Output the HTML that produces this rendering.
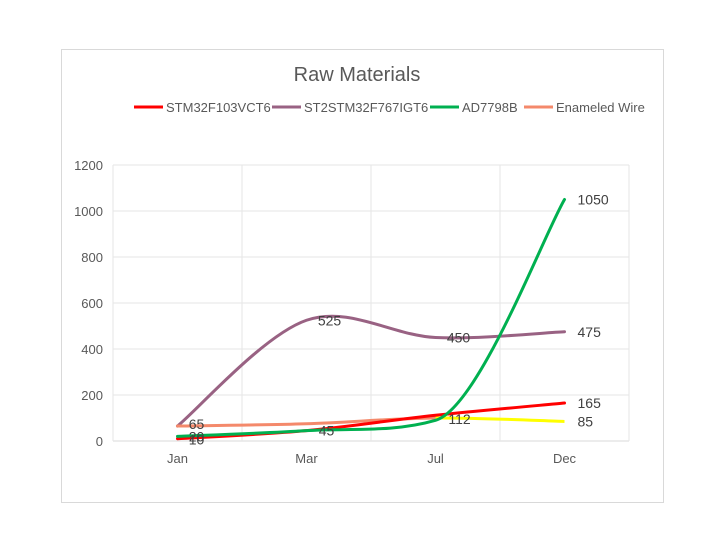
<!DOCTYPE html>
<html><head><meta charset="utf-8"><style>
body{margin:0;background:#fff;font-family:"Liberation Sans",sans-serif}
</style></head><body>
<svg id="c" width="713" height="529" xmlns="http://www.w3.org/2000/svg">
<rect x="0" y="0" width="713" height="529" fill="#fff"/>
<rect x="61.5" y="49.5" width="602" height="453" fill="#fff" stroke="#d9d9d9"/>
<text x="357" y="81" text-anchor="middle" font-size="20" fill="#595959">Raw Materials</text>
<g id="legend" font-size="13" fill="#595959"></g>
<g id="grid"></g>
<g id="series"></g>
<g id="labels" font-size="14" fill="#404040"></g>
<g id="axes" font-size="13" fill="#595959"></g>
</svg>
<script>
const categories=["Jan","Mar","Jul","Dec"];
const yTicks=[0,200,400,600,800,1000,1200];
const stm32=[10,45,112,165];
const st2stm32=[65,525,450,475];
const ad7798b=[20,45,90,1050];
const wire=[65,75,100,85];
const seriesNames=["STM32F103VCT6","ST2STM32F767IGT6","AD7798B","Enameled Wire"];
const NS="http://www.w3.org/2000/svg";
const x0=113,x1=629,y0=441,y1=165,yMax=1200;
const cw=(x1-x0)/categories.length;
const X=i=>x0+cw*(i+0.5);
const Y=v=>y0-(v/yMax)*(y0-y1);
function mk(t,a,p){const e=document.createElementNS(NS,t);for(const k in a)e.setAttribute(k,a[k]);p.appendChild(e);return e;}
const grid=document.getElementById('grid');
yTicks.forEach(v=>{const l=mk('line',{x1:x0,x2:x1,y1:Y(v),y2:Y(v),stroke:v===0?'#d9d9d9':'#e6e6e6'},grid);

});
for(let i=0;i<=categories.length;i++){const l=mk('line',{x1:x0+cw*i,x2:x0+cw*i,y1:y1,y2:y0,stroke:'#e6e6e6'},grid);

}
const axes=document.getElementById('axes');
yTicks.forEach(v=>{const t=mk('text',{x:103,y:Y(v)+5,'text-anchor':'end'},axes);t.textContent=v;

});
categories.forEach((c,i)=>{const t=mk('text',{x:X(i),y:463,'text-anchor':'middle'},axes);t.textContent=c;

});
function tangents(pts,clamp){const k=1/6;return pts.map((p,i)=>{const a=pts[Math.max(i-1,0)],b=pts[Math.min(i+1,pts.length-1)];
let dx=(b[0]-a[0])*k,dy=(b[1]-a[1])*k;
if(clamp){let lim=Infinity;if(i>0)lim=Math.min(lim,Math.abs(p[1]-pts[i-1][1])*1.2);if(i<pts.length-1)lim=Math.min(lim,Math.abs(pts[i+1][1]-p[1])*1.2);
if(Math.abs(dy)>lim)dy=Math.sign(dy)*lim;}
return [dx,dy];});}
function seg(pts,T,i){const p1=pts[i],p2=pts[i+1];
return `C${p1[0]+T[i][0]},${p1[1]+T[i][1]} ${p2[0]-T[i+1][0]},${p2[1]-T[i+1][1]} ${p2[0]},${p2[1]}`;}
const sg=document.getElementById('series');
function draw(vals,color,name,lastColor,clamp){const pts=vals.map((v,i)=>[X(i),Y(v)]);const T=tangents(pts,clamp);
let d=`M${pts[0][0]},${pts[0][1]}`;const n=lastColor?pts.length-2:pts.length-1;
for(let i=0;i<n;i++)d+=seg(pts,T,i);
const p=mk('path',{d:d,fill:'none',stroke:color,'stroke-width':3,'stroke-linecap':'round'},sg);


if(lastColor){const i=pts.length-2;const q=mk('path',{d:`M${pts[i][0]},${pts[i][1]}`+seg(pts,T,i),fill:'none',stroke:lastColor,'stroke-width':3},sg);

}}
draw(st2stm32,'#996283','series-st2stm32');
draw(wire,'#f4896b','series-enameled-wire','#ffff00');
draw(stm32,'#ff0000','series-stm32');
draw(ad7798b,'#00b050','series-ad7798b',null,true);
const lg=document.getElementById('labels');
function lab(vals,idx,dx,dy,anchor){idx.forEach(i=>{const t=mk('text',{x:X(i)+dx,y:Y(vals[i])+dy,'text-anchor':anchor||'middle'},lg);t.textContent=vals[i];

});}
lab(st2stm32,[1,2],23,5);lab(st2stm32,[3],13,5,'start');
lab(wire,[0],19,3);lab(wire,[3],13,5,'start');
lab(stm32,[0],19,6);lab(stm32,[1],20,5);lab(stm32,[2],24,9);lab(stm32,[3],13,5,'start');
lab(ad7798b,[0],19,5);lab(ad7798b,[3],13,5,'start');
const L=document.getElementById('legend');
const colors=['#ff0000','#996283','#00b050','#f4896b'];
const lx=[134,272,430,524];
seriesNames.forEach((s,i)=>{const g=mk('g',{},L);

mk('line',{x1:lx[i],x2:lx[i]+29,y1:107,y2:107,stroke:colors[i],'stroke-width':3},g);
const t=mk('text',{x:lx[i]+32,y:112},g);t.textContent=s;});
</script>
</body></html>
